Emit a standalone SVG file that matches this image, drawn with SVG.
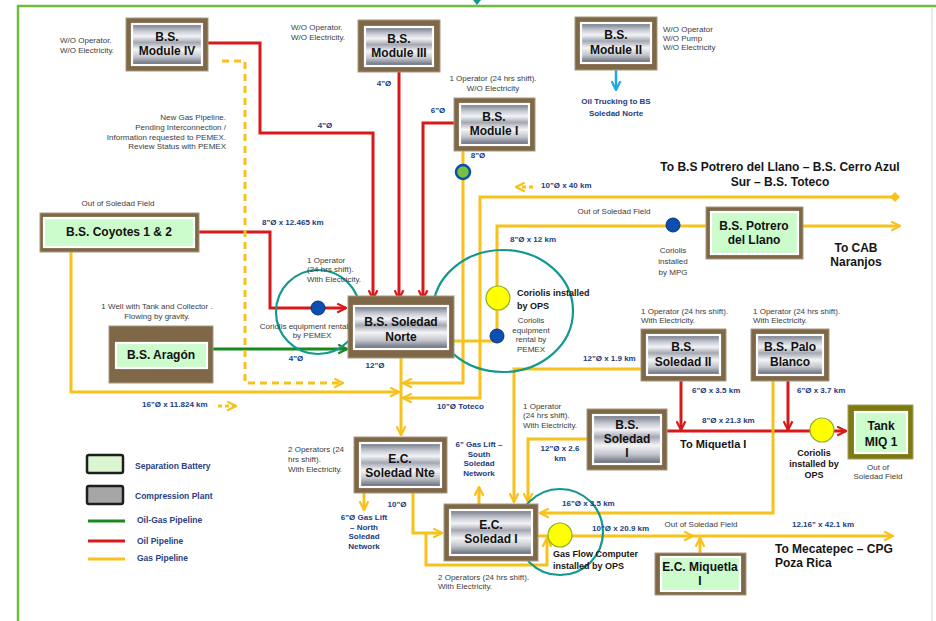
<svg xmlns="http://www.w3.org/2000/svg" width="936" height="621" viewBox="0 0 936 621">
<defs>
<style>
.frame{fill:#7f6848;stroke:#a8987c;stroke-width:1}
.olive{fill:#7d7a12;stroke:#a0a060;stroke-width:1}
.cp{fill:url(#silver);stroke:#fff;stroke-width:2.2}
.sb{fill:#ccfccc;stroke:#fff;stroke-width:2.2}
.nt{font-family:"Liberation Sans",Arial,sans-serif;font-weight:bold;font-size:12px;text-anchor:middle;fill:#111}
.note{font-family:"Liberation Sans",Arial,sans-serif;font-size:8px;fill:#3c3c3c}
.lbl{font-family:"Liberation Sans",Arial,sans-serif;font-size:8px;font-weight:bold;fill:#233c80}
.bk{font-family:"Liberation Sans",Arial,sans-serif;font-weight:bold;fill:#151515}
.leg{font-family:"Liberation Sans",Arial,sans-serif;font-size:8.5px;font-weight:bold;fill:#2a3f82}
.c{text-anchor:middle}
.r{text-anchor:end}
.y{fill:none;stroke:#f7c21b;stroke-width:3}
.yd{fill:none;stroke:#f7c21b;stroke-width:3;stroke-dasharray:7,5}
.rd{fill:none;stroke:#d7191c;stroke-width:3}
.gn{fill:none;stroke:#168a1e;stroke-width:3}
.teal{fill:none;stroke:#13988f;stroke-width:2.2}
.dotB{fill:#0c4fb3;stroke:#0a347a;stroke-width:1}
.dotY{fill:#ffff00;stroke:#8bb02a;stroke-width:1.2}
</style>
<linearGradient id="silver" x1="0" y1="0" x2="0" y2="1">
<stop offset="0" stop-color="#6f7484"/>
<stop offset="0.18" stop-color="#c9ccd4"/>
<stop offset="0.3" stop-color="#f2f3f6"/>
<stop offset="0.45" stop-color="#a3a7b1"/>
<stop offset="0.62" stop-color="#f4f4f6"/>
<stop offset="0.8" stop-color="#c3c6cd"/>
<stop offset="1" stop-color="#5d6272"/>
</linearGradient>
<marker id="aY" viewBox="0 0 10 10" refX="9" refY="5" markerWidth="11" markerHeight="11" markerUnits="userSpaceOnUse" orient="auto"><path d="M1,1 L9,5 L1,9" fill="none" stroke="#f7c21b" stroke-width="2"/></marker>
<marker id="aR" viewBox="0 0 10 10" refX="9" refY="5" markerWidth="11" markerHeight="11" markerUnits="userSpaceOnUse" orient="auto"><path d="M1,1 L9,5 L1,9" fill="none" stroke="#d7191c" stroke-width="2"/></marker>
<marker id="aG" viewBox="0 0 10 10" refX="9" refY="5" markerWidth="11" markerHeight="11" markerUnits="userSpaceOnUse" orient="auto"><path d="M1,1 L9,5 L1,9" fill="none" stroke="#168a1e" stroke-width="2"/></marker>
<marker id="aB" viewBox="0 0 10 10" refX="9" refY="5" markerWidth="11" markerHeight="11" markerUnits="userSpaceOnUse" orient="auto"><path d="M1,1 L9,5 L1,9" fill="none" stroke="#1fa6e6" stroke-width="2"/></marker>
<marker id="dia" viewBox="0 0 10 10" refX="5" refY="5" markerWidth="10" markerHeight="10" markerUnits="userSpaceOnUse" orient="auto"><path d="M0,5 L5,0 L10,5 L5,10 Z" fill="#f7c21b"/></marker>
</defs>
<rect width="936" height="621" fill="#fff"/>
<!-- frame -->
<g id="border">
<path d="M18,621 V6 H936" fill="none" stroke="#6cbf3c" stroke-width="2.5"/>
<line x1="932" y1="8" x2="932" y2="621" stroke="#d4d4d4" stroke-width="1"/>
<path d="M473,0 L481,0 L477,5 Z" fill="#13988f"/>
</g>

<g id="connectors">
<!-- red oil -->
<path class="rd" d="M208,43 H260 V133 H373 V299" marker-end="url(#aR)"/>
<path class="rd" d="M399,72 V299" marker-end="url(#aR)"/>
<path class="rd" d="M454,123 H423 V299" marker-end="url(#aR)"/>
<path class="rd" d="M199,232 H270 V308 H346" marker-end="url(#aR)"/>
<path class="rd" d="M667,431 H846" marker-end="url(#aR)"/>
<path class="rd" d="M681,381 V430" marker-end="url(#aR)"/>
<path class="rd" d="M788,381 V430" marker-end="url(#aR)"/>
<!-- green -->
<path class="gn" d="M213,349 H347" marker-end="url(#aG)"/>
<!-- yellow gas -->
<path class="y" d="M71,252 V392 H399" marker-end="url(#aY)"/>
<path class="y" d="M401,358 V435" marker-end="url(#aY)"/>
<path class="y" d="M463,151 V383 H403" marker-end="url(#aY)"/>
<path class="y" d="M895,197 H480 V398 H403" marker-start="url(#dia)" marker-end="url(#aY)"/>
<path class="y" d="M497,336 V226 H900" marker-end="url(#aY)"/>
<path class="y" d="M454,341 H497"/>
<path class="y" d="M641,369 H514 V502" marker-end="url(#aY)"/>
<path class="y" d="M587,439 H528 V502" marker-end="url(#aY)"/>
<path class="y" d="M773,381 V513 H540" marker-end="url(#aY)"/>
<path class="y" d="M364,493 V510" marker-end="url(#aY)"/>
<path class="y" d="M413,493 V533 H442" marker-end="url(#aY)"/>
<path class="y" d="M426,533 V565 H547 V538" marker-end="url(#aY)"/>
<path class="y" d="M479,504 V487" marker-end="url(#aY)"/>
<path class="y" d="M538,536 H693" marker-end="url(#aY)"/>
<path class="y" d="M693,536 H893" marker-end="url(#aY)"/>
<path class="y" d="M700,553 V538" marker-end="url(#aY)"/>
<!-- dashed -->
<path class="yd" d="M222,61 H245 V383 H343" marker-end="url(#aY)"/>
<path class="y" d="M218,406 H236" stroke-dasharray="4,3" stroke-width="2" marker-end="url(#aY)"/>
<path class="y" d="M533,187 H516" stroke-dasharray="4,3" stroke-width="2" marker-end="url(#aY)"/>
<!-- trucking -->
<path d="M616,70 V90" fill="none" stroke="#1fa6e6" stroke-width="2.5" marker-end="url(#aB)"/>
</g>

<g id="instruments">
<circle class="dotG" cx="463" cy="172" r="7" fill="#77c043" stroke="#0c4fb3" stroke-width="2.5"/>
<circle class="dotB" cx="318" cy="308" r="7"/>
<circle class="dotB" cx="497" cy="336" r="7"/>
<circle class="dotB" cx="673" cy="225" r="7"/>
<circle class="dotY" cx="498" cy="298" r="12"/>
<circle class="dotY" cx="822" cy="430" r="12"/>
<circle class="dotY" cx="560" cy="535" r="12"/>
<circle class="teal" cx="318" cy="312" r="42"/>
<ellipse class="teal" cx="503" cy="311" rx="70" ry="61"/>
<circle class="teal" cx="560" cy="532" r="43"/>
</g>

<g id="module4"><rect class="frame" x="126" y="18" width="82" height="53"/><rect class="cp" x="132" y="24" width="70" height="41"/><text class="nt" x="167" y="41">B.S.</text><text class="nt" x="167" y="55">Module IV</text></g>
<g id="module3"><rect class="frame" x="358" y="20" width="82" height="52"/><rect class="cp" x="365" y="27" width="68" height="39"/><text class="nt" x="399" y="43">B.S.</text><text class="nt" x="399" y="57">Module III</text></g>
<g id="module1"><rect class="frame" x="454" y="98" width="81" height="53"/><rect class="cp" x="460" y="104" width="69" height="41"/><text class="nt" x="494" y="121">B.S.</text><text class="nt" x="494" y="135">Module I</text></g>
<g id="module2"><rect class="frame" x="575" y="17" width="82" height="53"/><rect class="cp" x="581" y="23" width="70" height="40"/><text class="nt" x="616" y="39">B.S.</text><text class="nt" x="616" y="54">Module II</text></g>
<g id="soledadNorte"><rect class="frame" x="348" y="296" width="106" height="62"/><rect class="cp" x="354" y="306" width="94" height="43"/><text class="nt" x="401" y="326" font-size="12.5">B.S. Soledad</text><text class="nt" x="401" y="341" font-size="12.5">Norte</text></g>
<g id="ecSoledadNte"><rect class="frame" x="354" y="437" width="93" height="56"/><rect class="cp" x="360" y="443" width="81" height="44"/><text class="nt" x="400" y="463">E.C.</text><text class="nt" x="400" y="477">Soledad Nte</text></g>
<g id="ecSoledad1"><rect class="frame" x="444" y="504" width="94" height="57"/><rect class="cp" x="450" y="510" width="82" height="45"/><text class="nt" x="491" y="529">E.C.</text><text class="nt" x="491" y="543">Soledad I</text></g>
<g id="soledad1"><rect class="frame" x="587" y="409" width="80" height="61"/><rect class="cp" x="593" y="415" width="68" height="49"/><text class="nt" x="627" y="429">B.S.</text><text class="nt" x="627" y="443">Soledad</text><text class="nt" x="627" y="457">I</text></g>
<g id="soledad2"><rect class="frame" x="641" y="329" width="85" height="52"/><rect class="cp" x="647" y="335" width="73" height="40"/><text class="nt" x="683" y="351">B.S.</text><text class="nt" x="683" y="366">Soledad II</text></g>
<g id="paloBlanco"><rect class="frame" x="751" y="329" width="78" height="52"/><rect class="cp" x="757" y="335" width="66" height="40"/><text class="nt" x="790" y="351">B.S. Palo</text><text class="nt" x="790" y="366">Blanco</text></g>
<g id="potrero"><rect class="frame" x="706" y="207" width="97" height="52"/><rect class="sb" x="711" y="212" width="87" height="42"/><text class="nt" x="754" y="230">B.S. Potrero</text><text class="nt" x="754" y="244">del Llano</text></g>
<g id="coyotes"><rect class="frame" x="40" y="213" width="159" height="39"/><rect class="sb" x="44" y="218" width="150" height="29"/><text class="nt" x="119" y="236" font-size="13">B.S. Coyotes 1 &amp; 2</text></g>
<g id="aragon"><rect class="frame" x="109" y="326" width="104" height="57"/><rect class="sb" x="116" y="343" width="91" height="25"/><text class="nt" x="161" y="359" font-size="13">B.S. Aragón</text></g>
<g id="tank"><rect class="olive" x="848" y="405" width="65" height="54"/><rect class="sb" x="855" y="412" width="52" height="41"/><text class="nt" x="881" y="430" font-size="13">Tank</text><text class="nt" x="881" y="446" font-size="13">MIQ 1</text></g>
<g id="miquetla"><rect class="frame" x="655" y="553" width="91" height="42"/><rect class="sb" x="661" y="557" width="79" height="34"/><text class="nt" x="700" y="571">E.C. Miquetla</text><text class="nt" x="700" y="585">I</text></g>

<g id="legend">
<rect x="87" y="455" width="36" height="18" rx="2" fill="#dcf6d2" stroke="#1e1e1e" stroke-width="2.5"/>
<rect x="87" y="486" width="36" height="18" rx="2" fill="#a6a6a6" stroke="#1e1e1e" stroke-width="2.5"/>
<line x1="88" y1="521" x2="125" y2="521" stroke="#168a1e" stroke-width="3"/>
<line x1="88" y1="541" x2="125" y2="541" stroke="#d7191c" stroke-width="3"/>
<line x1="88" y1="559" x2="125" y2="559" stroke="#f7c21b" stroke-width="3"/>
<text class="leg" x="135" y="469">Separation Battery</text>
<text class="leg" x="135" y="499">Compression Plant</text>
<text class="leg" x="137" y="523">Oil-Gas Pipeline</text>
<text class="leg" x="137" y="544">Oil Pipeline</text>
<text class="leg" x="137" y="561">Gas Pipeline</text>
</g>

<g id="notes">
<text class="note" x="60" y="43">W/O Operator.</text><text class="note" x="60" y="53">W/O Electricity.</text>
<text class="note" x="291" y="30">W/O Operator.</text><text class="note" x="291" y="40">W/O Electricity.</text>
<text class="note" x="663" y="32">W/O Operator</text><text class="note" x="663" y="41">W/O Pump</text><text class="note" x="663" y="50">W/O Electricity</text>
<text class="note c" x="493" y="81">1 Operator (24 hrs shift).</text><text class="note c" x="493" y="91">W/O Electricity</text>
<text class="note r" x="226" y="120">New Gas Pipeline.</text><text class="note r" x="226" y="130">Pending Interconnection /</text><text class="note r" x="226" y="140">Information requested to PEMEX.</text><text class="note r" x="226" y="149">Review Status with PEMEX</text>
<text class="note c" x="118" y="206">Out of Soledad Field</text>
<text class="note c" x="157" y="309">1 Well with Tank and Collector .</text><text class="note c" x="157" y="319">Flowing by gravity.</text>
<text class="note" x="307" y="263">1 Operator</text><text class="note" x="307" y="272">(24 hrs shift).</text><text class="note" x="307" y="282">With Electricity.</text>
<text class="note c" x="304" y="329">Coriolis equipment rental</text><text class="note c" x="312" y="338">by PEMEX</text>
<text class="note c" x="531" y="323">Coriolis</text><text class="note c" x="531" y="333">equipment</text><text class="note c" x="531" y="342">rental by</text><text class="note c" x="531" y="352">PEMEX</text>
<text class="note c" x="614" y="214">Out of Soledad Field</text>
<text class="note c" x="673" y="253">Coriolis</text><text class="note c" x="673" y="264">installed</text><text class="note c" x="673" y="275">by MPG</text>
<text class="note" x="641" y="314">1 Operator (24 hrs shift).</text><text class="note" x="641" y="323">With Electricity.</text>
<text class="note" x="753" y="314">1 Operator (24 hrs shift).</text><text class="note" x="753" y="323">With Electricity.</text>
<text class="note" x="288" y="452">2 Operators (24</text><text class="note" x="288" y="462">hrs shift).</text><text class="note" x="288" y="472">With Electricity.</text>
<text class="note" x="523" y="409">1 Operator</text><text class="note" x="523" y="418">(24 hrs shift).</text><text class="note" x="523" y="428">With Electricity.</text>
<text class="note" x="438" y="580">2 Operators (24 hrs shift).</text><text class="note" x="438" y="589">With Electricity.</text>
<text class="note c" x="701" y="527">Out of Soledad Field</text>
<text class="note c" x="878" y="470">Out of</text><text class="note c" x="878" y="479">Soledad Field</text>
</g>

<g id="labels">
<text class="lbl c" x="325" y="128">4"Ø</text>
<text class="lbl c" x="384" y="86">4"Ø</text>
<text class="lbl c" x="438" y="113">6"Ø</text>
<text class="lbl c" x="478" y="158">8"Ø</text>
<text class="lbl" x="541" y="188">10"Ø x 40 km</text>
<text class="lbl" x="510" y="242">8"Ø x 12 km</text>
<text class="lbl" x="262" y="225">8"Ø x 12.465 km</text>
<text class="lbl c" x="296" y="361">4"Ø</text>
<text class="lbl c" x="375" y="368">12"Ø</text>
<text class="lbl" x="142" y="407">16"Ø x 11.824 km</text>
<text class="lbl" x="437" y="409">10"Ø Toteco</text>
<text class="lbl" x="583" y="361">12"Ø x 1.9 km</text>
<text class="lbl" x="692" y="393">6"Ø x 3.5 km</text>
<text class="lbl" x="797" y="393">6"Ø x 3.7 km</text>
<text class="lbl" x="702" y="423">8"Ø x 21.3 km</text>
<text class="lbl c" x="560" y="451">12"Ø x 2.6</text><text class="lbl c" x="560" y="461">km</text>
<text class="lbl c" x="479" y="447">6" Gas Lift –</text><text class="lbl c" x="479" y="457">South</text><text class="lbl c" x="479" y="466">Soledad</text><text class="lbl c" x="479" y="476">Network</text>
<text class="lbl c" x="397" y="507">10"Ø</text>
<text class="lbl c" x="364" y="520">6"Ø Gas Lift</text><text class="lbl c" x="364" y="530">– North</text><text class="lbl c" x="364" y="539">Soledad</text><text class="lbl c" x="364" y="549">Network</text>
<text class="lbl" x="562" y="506">16"Ø x 3.5 km</text>
<text class="lbl" x="592" y="531">10"Ø x 20.9 km</text>
<text class="lbl" x="792" y="527">12.16" x 42.1 km</text>
<text class="lbl c" x="616" y="104" font-size="9" fill="#1f3a8a">Oil Trucking to BS</text><text class="lbl c" x="616" y="116" font-size="9" fill="#1f3a8a">Soledad Norte</text>
</g>

<g id="titles">
<text class="bk c" x="780" y="171" font-size="12">To  B.S Potrero del Llano – B.S. Cerro Azul</text>
<text class="bk c" x="780" y="186" font-size="12">Sur – B.S. Toteco</text>
<text class="bk c" x="856" y="252" font-size="12">To CAB</text><text class="bk c" x="856" y="266" font-size="12">Naranjos</text>
<text class="bk" x="517" y="296" font-size="9">Coriolis installed</text><text class="bk" x="517" y="309" font-size="9">by OPS</text>
<text class="bk" x="680" y="448" font-size="11">To Miquetla I</text>
<text class="bk c" x="814" y="456" font-size="9">Coriolis</text><text class="bk c" x="814" y="467" font-size="9">installed by</text><text class="bk c" x="814" y="478" font-size="9">OPS</text>
<text class="bk" x="553" y="557" font-size="9">Gas Flow Computer</text><text class="bk" x="553" y="569" font-size="9">installed by OPS</text>
<text class="bk" x="775" y="553" font-size="12">To  Mecatepec – CPG</text><text class="bk" x="775" y="567" font-size="12">Poza Rica</text>
</g>
</svg>
